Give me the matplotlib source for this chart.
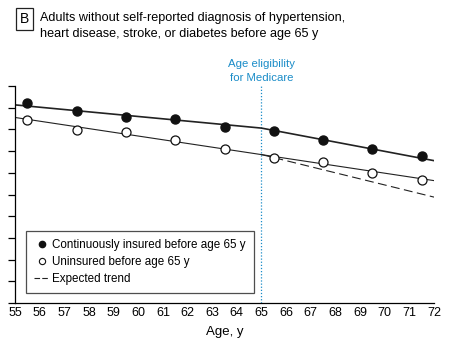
import matplotlib.pyplot as plt
from matplotlib.lines import Line2D

plt.rcParams['font.family'] = ['Liberation Sans', 'DejaVu Sans']

# observed points (arbitrary units on y)
ages = [55.5, 57.5, 59.5, 61.5, 63.5, 65.5, 67.5, 69.5, 71.5]
insured = [9.23, 8.84, 8.58, 8.49, 8.09, 7.94, 7.52, 7.11, 6.76]
uninsured = [8.44, 7.98, 7.89, 7.49, 7.08, 6.67, 6.51, 5.98, 5.66]

# fitted lines
insured_fit_x = [55, 65, 72]
insured_fit_y = [9.13, 8.06, 6.56]
uninsured_fit_x = [55, 72]
uninsured_fit_y = [8.55, 5.64]
expected_x = [65, 72]
expected_y = [6.84, 4.88]

blue = '#1a8cc8'

fig = plt.figure(figsize=(4.52, 3.45), dpi=100)
ax = fig.add_axes([15/452, 42/345, 419/452, 217/345])

ax.plot(insured_fit_x, insured_fit_y, color='#222222', lw=1.2, zorder=2)
ax.plot(uninsured_fit_x, uninsured_fit_y, color='#222222', lw=0.8, zorder=2)
ax.plot(expected_x, expected_y, color='#222222', lw=0.8, ls=(0, (8, 4)), zorder=2)
ax.plot(ages, insured, 'o', color='#111111', ms=6.5, zorder=3)
ax.plot(ages, uninsured, 'o', mfc='white', mec='#111111', mew=0.9, ms=6.5, zorder=3)

ax.axvline(65, color=blue, lw=0.9, ls=(0, (1, 1.5)), zorder=1)
ax.text(65, 10.7, 'Age eligibility\nfor Medicare', color=blue, fontsize=8.2,
        ha='center', va='center', linespacing=1.55)

ax.set_xlim(55, 72)
ax.set_ylim(0, 10)
ax.set_xticks(range(55, 73))
ax.set_yticks(range(0, 11))
ax.set_yticklabels([])
ax.tick_params(axis='x', length=0, labelsize=9, pad=3)
ax.tick_params(axis='y', length=5, width=0.9, direction='out')
ax.spines['top'].set_visible(False)
ax.spines['right'].set_visible(False)
ax.spines['left'].set_linewidth(0.9)
ax.spines['bottom'].set_linewidth(0.9)
ax.set_xlabel('Age, y', fontsize=9.5, labelpad=5)

handles = [
    Line2D([], [], marker='o', ls='none', color='#111111', ms=4.5),
    Line2D([], [], marker='o', ls='none', mfc='white', mec='#111111', mew=0.8, ms=4.5),
    Line2D([], [], color='#222222', lw=0.8, ls=(0, (5, 2))),
]
labels = ['Continuously insured before age 65 y', 'Uninsured before age 65 y',
          'Expected trend']
leg = ax.legend(handles, labels, loc='lower left', bbox_to_anchor=(0.026, 0.046),
                fontsize=8.4, frameon=True, fancybox=False, handlelength=1.3,
                handletextpad=0.25, labelspacing=0.42, borderpad=0.7,
                borderaxespad=0)
leg.get_frame().set_edgecolor('#222222')
leg.get_frame().set_linewidth(0.9)

fig.text(24.5/452, 1 - 19/345, 'B', fontsize=10, ha='center', va='center',
         bbox=dict(boxstyle='square,pad=0.3', fc='white', ec='#222222', lw=0.9))
fig.text(40/452, 1 - 26/345,
         'Adults without self-reported diagnosis of hypertension,\n'
         'heart disease, stroke, or diabetes before age 65 y',
         fontsize=9.1, ha='left', va='center', linespacing=1.45)

fig.savefig('out.png', dpi=100)
